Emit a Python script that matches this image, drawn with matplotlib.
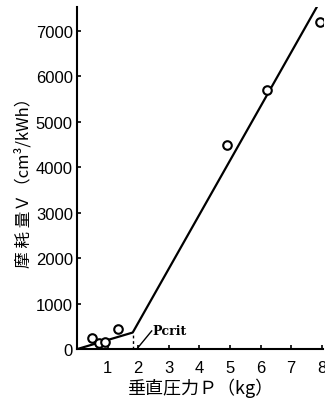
import matplotlib.pyplot as plt

plt.rcParams['font.family'] = ['Liberation Sans', 'Noto Sans CJK JP']

# measured points
p_pts = [0.48, 0.73, 0.92, 1.35, 4.9, 6.2, 7.95]
v_pts = [235, 125, 147, 440, 4480, 5700, 7180]

# fitted line (two segments, kink at Pcrit)
p_line = [0, 1.82, 7.83]
v_line = [0, 365, 7510]
p_crit = 1.82

xticks = [1, 2, 3, 4, 5, 6, 7, 8]
yticks = [0, 1000, 2000, 3000, 4000, 5000, 6000, 7000]

fig = plt.figure(figsize=(3.25, 4.02), dpi=100)
ax = fig.add_axes([0.237, 0.129, 0.757, 0.851])

ax.plot(p_line, v_line, color='black', lw=1.6)
ax.scatter(p_pts, v_pts, s=38, facecolors='white', edgecolors='black',
           linewidths=1.5, zorder=3)
ax.plot([p_crit, p_crit], [0, v_line[1]], color='black', lw=1, ls=(0, (2, 2)))

# Pcrit leader
ax.plot([1.95, 2.44], [0, 400], color='black', lw=1)
ax.text(2.48, 420, 'Pcrit', fontsize=9, family='DejaVu Serif',
        fontweight='bold', va='center', ha='left')

ax.set_xlim(0, 8.04)
ax.set_ylim(0, 7516)
ax.set_xticks(xticks)
ax.set_yticks(yticks)
ax.tick_params(direction='in', length=3, width=1.2, labelsize=12, pad=3)
ax.tick_params(axis='x', pad=8)
for s in ['top', 'right']:
    ax.spines[s].set_visible(False)
for s in ['left', 'bottom']:
    ax.spines[s].set_linewidth(1.5)

ax.set_xlabel('垂直圧力Ｐ（kg）', fontsize=13, family=['Noto Sans CJK JP'], labelpad=2)
ax.set_ylabel('摩 耗 量Ｖ（cm³/kWh）', fontsize=12, family=['Noto Sans CJK JP'], labelpad=2)

fig.savefig('out.png', dpi=100)
